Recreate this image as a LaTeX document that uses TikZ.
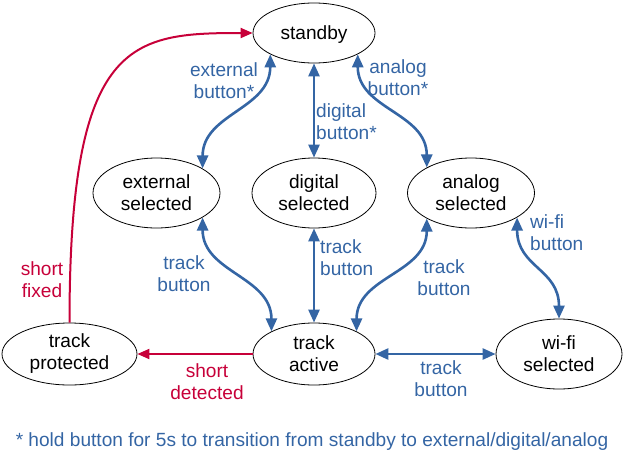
\documentclass[tikz,border=0pt]{standalone}
\usepackage{fontspec}
\setmainfont{Liberation Sans}
\usetikzlibrary{arrows.meta,shapes.geometric}
\definecolor{cblue}{RGB}{52,101,164}
\definecolor{cred}{RGB}{199,0,57}
\begin{document}
\begin{tikzpicture}[x=1pt,y=1pt,
  every node/.style={font=\fontsize{19.1}{22}\selectfont},
  state/.style={draw=black, ellipse, line width=0.8pt, inner sep=0pt},
  state2/.style={state, align=center},
  lbl/.style={inner sep=0pt, align=center, text=cblue},
  lbll/.style={inner sep=0pt, align=left, text=cblue, anchor=west},
  rlbl/.style={inner sep=0pt, align=center, text=cred},
  bedge/.style={draw=cblue, line width=2.6pt, {Triangle[length=13pt,width=11pt]}-{Triangle[length=13pt,width=11pt]}},
  redge/.style={draw=cred, line width=2pt, -{Triangle[length=12pt,width=10pt]}}
]
\useasboundingbox (0,0) rectangle (623,-455);
% states
\node[state, minimum width=122pt, minimum height=60pt, text depth=0pt] (standby) at (314,-33) {standby};
\node[state2, minimum width=127pt, minimum height=70pt] (external) at (156.5,-193) {external\\selected};
\node[state2, minimum width=124pt, minimum height=70pt] (digital) at (314,-193) {digital\\selected};
\node[state2, minimum width=127pt, minimum height=70pt] (analog) at (471,-193) {analog\\selected};
\node[state2, minimum width=135pt, minimum height=62pt] (protected) at (69.5,-354) {track\\protected};
\node[state2, minimum width=122pt, minimum height=62pt] (active) at (314,-354) {track\\active};
\node[state2, minimum width=126pt, minimum height=70pt] (wifi) at (559,-354) {wi-fi\\selected};
% connectors
\draw[bedge] (standby.206) .. controls +(0,-55) and +(0,55) .. (external.28);
\draw[bedge] (standby.south) -- (digital.north);
\draw[bedge] (standby.334) .. controls +(0,-55) and +(0,55) .. (analog.150);
\draw[bedge] (external.332) .. controls +(0,-55) and +(0,55) .. (active.152);
\draw[bedge] (digital.south) -- (active.north);
\draw[bedge] (analog.210) .. controls +(0,-55) and +(0,55) .. (active.28);
\draw[bedge] (analog.332) .. controls +(0,-50) and +(0,50) .. (wifi.north);
\draw[bedge] (active.east) -- (wifi.west);
\draw[redge] (active.west) -- (protected.east);
\draw[redge] (protected.north) .. controls (69.5,-40) and (130,-33) .. (standby.west);
% labels
\node[lbl] (l1) at (224,-81) {external\\button*};
\node[lbll] (l2) at (316,-122) {digital\\button*};
\node[lbl] (l3) at (398,-78) {analog\\button*};
\node[lbl] (l4) at (184,-274) {track\\button};
\node[lbll] (l5) at (320,-258) {track\\button};
\node[lbl] (l6) at (444,-278) {track\\button};
\node[lbll] (l7) at (530,-233) {wi-fi\\button};
\node[lbl] (l8) at (441,-379) {track\\button};
\node[rlbl] (l9) at (207,-382) {short\\detected};
\node[rlbl] (l10) at (42,-280) {short\\fixed};
\node[lbl] (note) at (312,-442) {* hold button for 5s to transition from standby to external/digital/analog};
\end{tikzpicture}
\end{document}
